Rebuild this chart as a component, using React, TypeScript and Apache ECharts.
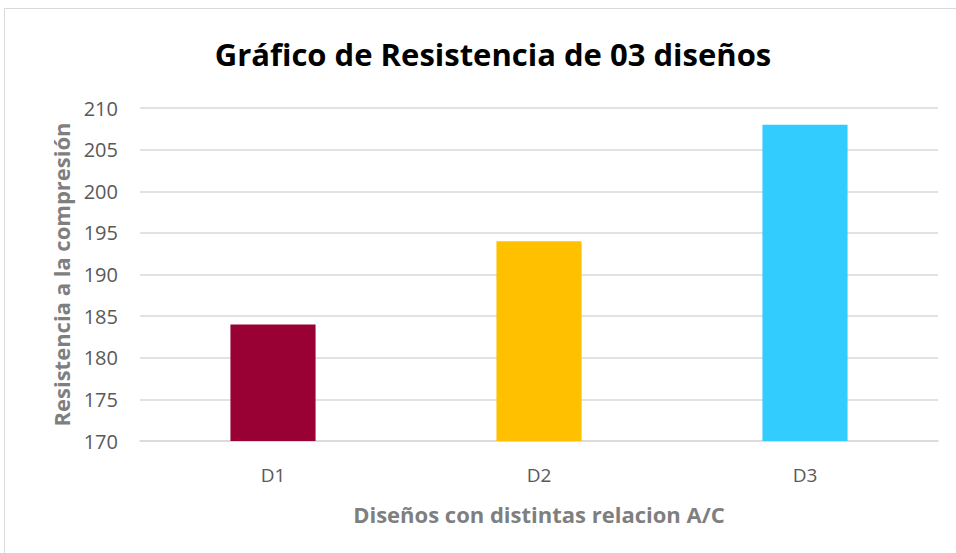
import React, { useEffect, useRef } from "react";
import * as echarts from "echarts";

const categories = ["D1", "D2", "D3"];
const values = [184, 194, 208];
const barColors = ["#990033", "#FFC000", "#33CCFF"];
const yMin = 170;
const yMax = 210;
const yInterval = 5;

const titleText = "Gráfico de Resistencia de 03 diseños";
const xName = "Diseños con distintas relacion A/C";
const yName = "Resistencia a la compresión";

export default function App() {
  const ref = useRef<HTMLDivElement>(null);
  useEffect(() => {
    if (!ref.current) return;
    const chart = echarts.init(ref.current, undefined, { renderer: "svg" });
    const font = "'Open Sans', 'Noto Sans', sans-serif";
    chart.setOption({
      animation: false,
      backgroundColor: "#ffffff",
      title: {
        text: titleText,
        left: 488,
        textAlign: "center",
        top: 33,
        textStyle: { fontFamily: font, fontSize: 31, fontWeight: "bold", color: "#000000" },
      },
      graphic: [
        {
          type: "rect",
          shape: { x: 4.5, y: 8.5, width: 1000, height: 600 },
          style: { fill: "none", stroke: "#d9d9d9", lineWidth: 1 },
          silent: true,
        },
      ],
      grid: { left: 140, right: 18, top: 108, bottom: 112, containLabel: false },
      xAxis: {
        type: "category",
        data: categories,
        name: xName,
        nameLocation: "middle",
        nameGap: 62,
        nameTextStyle: { fontFamily: font, fontSize: 22, fontWeight: "bold", color: "#7f7f7f" },
        axisLine: { lineStyle: { color: "#d9d9d9", width: 1.5 } },
        axisTick: { show: false },
        axisLabel: { fontFamily: font, fontSize: 19, color: "#595959", margin: 24 },
      },
      yAxis: {
        type: "value",
        min: yMin,
        max: yMax,
        interval: yInterval,
        name: yName,
        nameLocation: "middle",
        nameGap: 68,
        nameRotate: 90,
        nameTextStyle: { fontFamily: font, fontSize: 22, fontWeight: "bold", color: "#7f7f7f" },
        axisLine: { show: false },
        axisTick: { show: false },
        axisLabel: { fontFamily: font, fontSize: 20, color: "#595959", margin: 22 },
        splitLine: { lineStyle: { color: "#d9d9d9", width: 1.5 } },
      },
      series: [
        {
          type: "bar",
          data: values.map((v, i) => ({ value: v, itemStyle: { color: barColors[i] } })),
          barWidth: "32%",
        },
      ],
    });
    return () => chart.dispose();
  }, []);
  return (
    <div
      ref={ref}
      style={{ position: "fixed", left: 0, top: 0, width: 956, height: 553 }}
    />
  );
}
